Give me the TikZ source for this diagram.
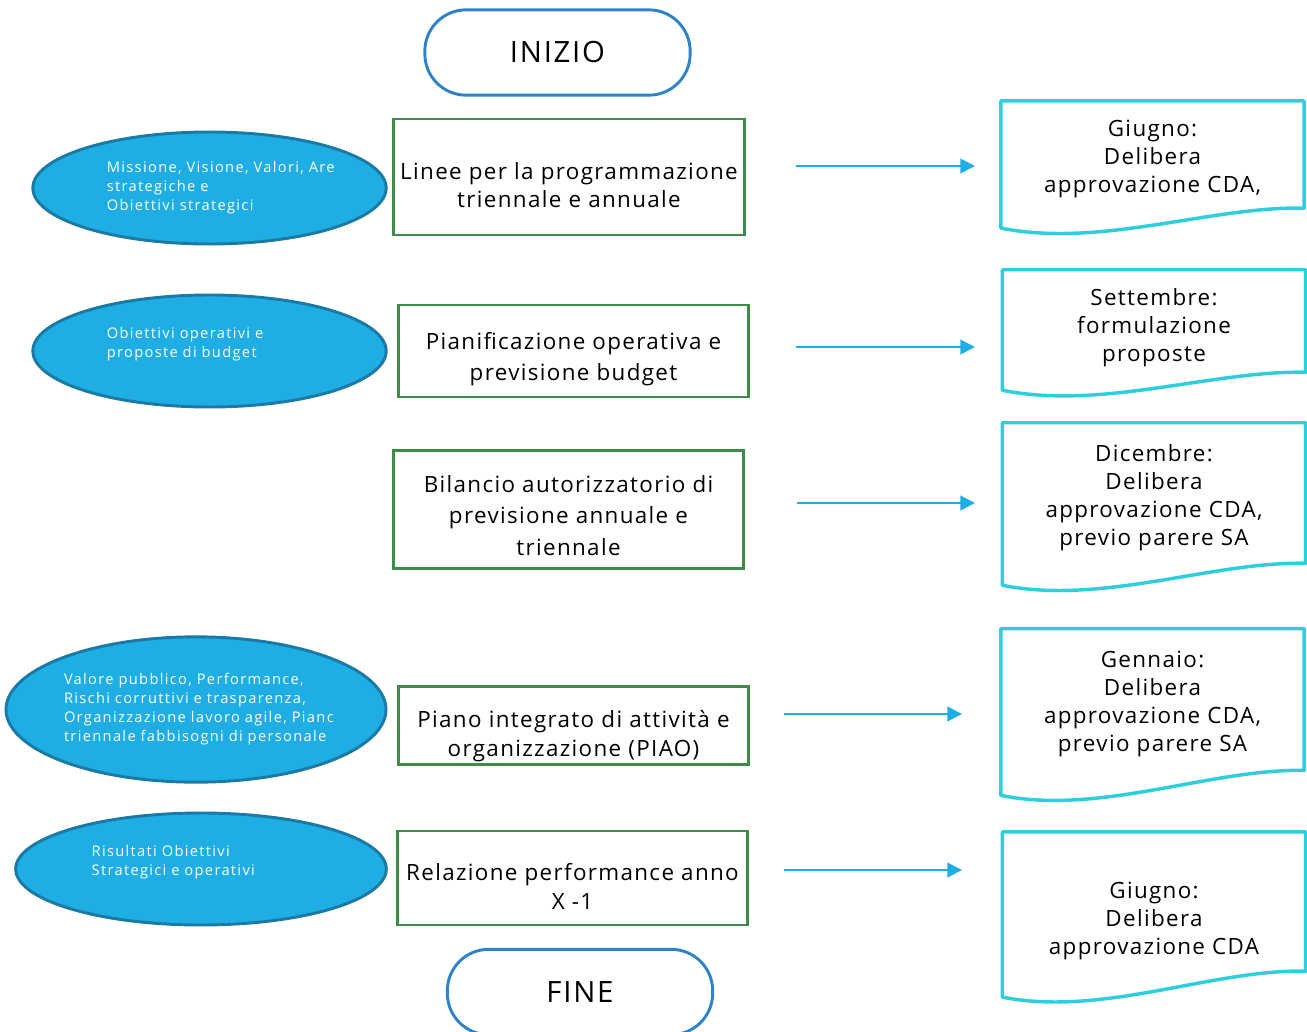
\documentclass[tikz,border=0pt]{standalone}
\usepackage{fontspec}
\setmainfont{Open Sans}[LetterSpace=6]
\newfontfamily\goalfont{Open Sans}[LetterSpace=9]
\usepackage{tikz}
\usetikzlibrary{shapes.geometric,arrows.meta}
\definecolor{stepgreen}{RGB}{62,140,72}
\definecolor{goalblue}{RGB}{30,174,227}
\definecolor{goalrim}{RGB}{26,122,166}
\definecolor{deedcyan}{RGB}{46,207,220}
\definecolor{termblue}{RGB}{46,130,200}

\begin{document}
\begin{tikzpicture}[x=0.75pt,y=-0.75pt]
    \tikzstyle{terminal} = [rectangle, draw=termblue, line width=2.2pt, rounded corners=31pt, minimum width=199pt, minimum height=64pt, font=\fontsize{22}{26}\selectfont]
    \tikzstyle{phase} = [rectangle, draw=stepgreen, line width=2.2pt, minimum width=263pt, align=center, inner sep=0pt, font=\fontsize{16.8}{21.5}\selectfont]
    \tikzstyle{goal} = [ellipse, draw=goalrim, line width=2.2pt, fill=goalblue, text=white, align=left, inner sep=0pt, font=\goalfont\fontsize{11}{14.2}\selectfont]
    \tikzstyle{deed} = [rectangle, draw=none, minimum width=227pt, align=center, inner sep=0pt, font=\fontsize{16.8}{21}\selectfont]
    \tikzstyle{flow} = [draw=goalblue, line width=1.5pt, -{Triangle[length=11pt,width=11pt]}]

    \useasboundingbox (0,0) rectangle (1307,1032);

    % start / end
    \node[terminal] (start) at (557.5,52.5) {INIZIO};
    \node[terminal] (stop) at (580,992) {FINE};

    % process steps
    \node[phase, minimum height=87pt, text height=46.5pt] (lines) at (569,177) {Linee per la programmazione\\triennale e annuale};
    \node[phase, minimum height=69pt, text height=48.5pt] (plan) at (573.5,351) {Pianificazione operativa e\\[2pt]previsione budget};
    \node[phase, minimum height=88pt, text height=68.5pt] (budget) at (568.5,509.5) {Bilancio autorizzatorio di\\[2pt]previsione annuale e\\[2pt]triennale};
    \node[phase, minimum height=59pt, text height=50pt] (piao) at (573.5,725.5) {Piano integrato di attività e\\organizzazione (PIAO)};
    \node[phase, minimum height=70.5pt, text height=46.5pt] (report) at (572.5,878) {Relazione performance anno\\X -1};

    % inputs
    \node[goal, minimum width=265pt, minimum height=84pt, text width=154pt] (mission) at (209.5,188) {\mbox{Missione, Visione, Valori, Are}\\strategiche e\\Obiettivi strategici};
    \node[goal, minimum width=265pt, minimum height=84pt, text width=154pt, text depth=27pt] (operative) at (209.5,351) {Obiettivi operativi e\\ proposte di budget};
    \node[goal, minimum width=285pt, minimum height=109pt, text width=198pt] (value) at (196,709.5) {Valore pubblico, Performance,\\Rischi corruttivi e trasparenza,\\\mbox{Organizzazione lavoro agile, Pianc}\\\mbox{triennale fabbisogni di personale}};
    \node[goal, minimum width=278pt, minimum height=84pt, text width=164pt, text depth=27pt] (results) at (201,869) {Risultati Obiettivi\\Strategici e operativi};

    % deadlines
    \node[deed, minimum height=80pt, text height=61pt] (june) at (1152.5,154.5) {Giugno:\\Delibera\\approvazione CDA,};
    \node[deed, minimum height=76.5pt, text height=64.5pt] (sept) at (1154,321) {Settembre:\\formulazione\\proposte};
    \node[deed, minimum height=105pt, text height=82.5pt] (dec) at (1154,493) {Dicembre:\\Delibera\\approvazione CDA,\\previo parere SA};
    \node[deed, minimum height=106pt, text height=82pt] (jan) at (1152.5,699.5) {Gennaio:\\Delibera\\approvazione CDA,\\previo parere SA};
    \node[deed, minimum height=104pt, text height=83pt] (june2) at (1154,901.5) {Giugno:\\Delibera\\approvazione CDA};

    \foreach \d/\dr in {june/20, sept/18, dec/22, jan/25, june2/26} {
        \draw[deedcyan, line width=2.6pt, line join=round]
            (\d.north west) -- (\d.north east) -- (\d.south east)
            .. controls ([shift={(-93,-2)}]\d.south east) and ([shift={(100,{\dr+20})}]\d.south west)
            .. ([shift={(0,\dr)}]\d.south west) -- cycle;
    }

    % arrows
    \coordinate (a1) at (796,166);  \coordinate (b1) at (975,166);
    \coordinate (a2) at (796,347);  \coordinate (b2) at (975,347);
    \coordinate (a3) at (797,503);  \coordinate (b3) at (975,503);
    \coordinate (a4) at (784,714);  \coordinate (b4) at (962,714);
    \coordinate (a5) at (784,870);  \coordinate (b5) at (962,870);
    \draw[flow] (a1) -- (b1);
    \draw[flow] (a2) -- (b2);
    \draw[flow] (a3) -- (b3);
    \draw[flow] (a4) -- (b4);
    \draw[flow] (a5) -- (b5);
\end{tikzpicture}
\end{document}
